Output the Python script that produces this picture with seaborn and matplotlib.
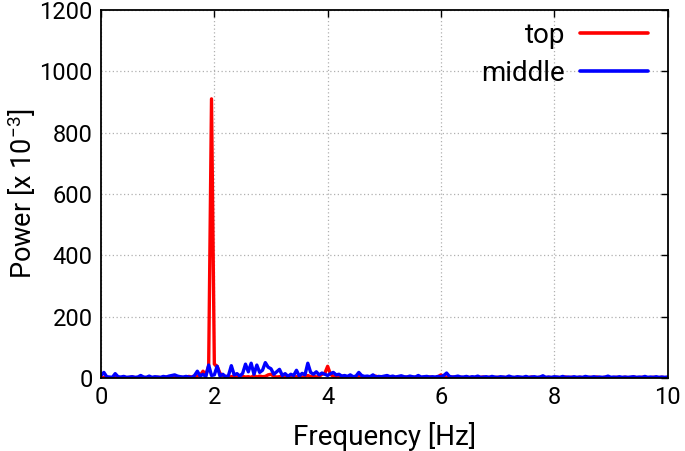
import numpy as np
import pandas as pd
import matplotlib
matplotlib.use("Agg")
import matplotlib.pyplot as plt
import seaborn as sns

# Power spectra, values (x 10^-3), 0.05 Hz steps
top_power = [3, 1, 2, 0, 1, 2, 1, 0, 2, 1, 1, 3, 1, 0, 2, 1, 1, 2, 0, 1,
             2, 1, 0, 3, 1, 2, 4, 3, 2, 1, 2, 5, 3, 2, 6, 8, 22, 10, 40, 910,
             45, 38, 15, 8, 5, 3, 4, 6, 3, 2, 5, 3, 4, 2, 8, 3, 6, 4, 5, 10,
             12, 5, 3, 4, 6, 3, 2, 5, 3, 4, 2, 3, 5, 8, 4, 6, 3, 5, 12, 15,
             38,
             12, 5, 4, 3, 6, 2, 3, 4, 2, 3, 5, 2, 3, 4, 2, 3, 6, 2, 3, 4,
             2, 3, 1, 2, 4, 2, 1, 3, 2, 1, 2, 3, 1, 2, 1, 3, 2, 1, 4, 10,
             4, 2, 1, 3, 2, 1, 2, 1, 3, 1, 2, 1, 1, 2, 3, 1, 2, 1, 1, 2,
             1, 2, 1, 3, 1, 1, 2, 1, 1, 2, 1, 3, 1, 1, 2, 1, 1, 2, 1, 1,
             2, 1, 1, 3, 1, 2, 1, 1, 2, 1, 1, 1, 2, 1, 3, 1, 1, 2, 1, 1,
             1, 2, 1, 1, 2, 1, 1, 3, 1, 1, 2, 1, 1, 1, 2, 1, 1, 2, 1, 1]

middle_power = [8, 18, 4, 3, 2, 14, 4, 3, 5, 2, 3, 4, 2, 3, 8, 3, 2, 6, 2, 4,
                3, 2, 5, 3, 6, 8, 10, 6, 4, 3, 5, 3, 2, 8, 22, 6, 12, 4, 42, 8,
                10, 38, 6, 12, 3, 8, 40, 10, 14, 6, 15, 45, 20, 48, 12, 42, 18, 25, 50, 35,
                30, 12, 20, 28, 8, 14, 5, 12, 8, 25, 6, 15, 10, 48, 18, 12, 20, 10, 16, 12,
                8, 14, 18, 10, 12, 6, 8, 5, 10, 4, 6, 18, 8, 5, 6, 4, 10, 3, 5, 4,
                6, 8, 4, 6, 3, 5, 7, 4, 3, 6, 4, 3, 8, 3, 4, 5, 3, 4, 3, 5,
                4, 8, 16, 5, 3, 4, 6, 3,
                3, 5, 2, 4, 3, 6, 2, 3, 4, 2, 5, 3, 2, 4, 3, 2, 6, 3, 2, 4,
                3, 2, 5, 2, 3, 4, 2, 3, 7, 2, 3, 2, 4, 3, 2, 5, 2, 3, 2, 4,
                2, 3, 2, 5, 3, 2, 4, 2, 3, 2, 3, 6, 2, 3, 2, 4, 2, 3, 2, 3,
                4, 2, 3, 2, 5, 2, 3, 2, 4, 2, 3, 2, 3]

series_names = ["top", "middle"]
series_colors = ["red", "blue"]
x_ticks = [0, 2, 4, 6, 8, 10]
y_ticks = [0, 200, 400, 600, 800, 1000, 1200]

frames = []
for name, vals in zip(series_names, [top_power, middle_power]):
    frames.append(pd.DataFrame({"freq": np.arange(len(vals)) * 0.05,
                                "power": vals, "series": name}))
df = pd.concat(frames, ignore_index=True)

sns.set_style("white")
plt.rcParams["font.family"] = ["Roboto", "DejaVu Sans"]
plt.rcParams["mathtext.fontset"] = "custom"
plt.rcParams["mathtext.rm"] = "Roboto"
plt.rcParams["text.color"] = "black"
plt.rcParams["axes.labelcolor"] = "black"

fig = plt.figure(figsize=(6.85, 4.51), dpi=100)
ax = fig.add_axes([0.1475, 0.162, 0.827, 0.816])

sns.lineplot(data=df, x="freq", y="power", hue="series", hue_order=series_names,
             palette=dict(zip(series_names, series_colors)), linewidth=2.4,
             ax=ax)

ax.set_xlim(0, 10)
ax.set_ylim(0, 1200)
ax.set_xticks(x_ticks)
ax.set_yticks(y_ticks)
ax.grid(True, color="#b0b0b0", linestyle=(0, (1, 2)), linewidth=0.9)
for s in ax.spines.values():
    s.set_color("black")
    s.set_linewidth(1.3)
ax.tick_params(direction="in", length=5, width=1.0, top=True, right=True,
               labelsize=17, colors="black", pad=6)
ax.set_xlabel("Frequency [Hz]", fontsize=20, labelpad=9, color="black")
ax.set_ylabel("Power [x 10$^{\\mathregular{-3}}$]", fontsize=19.5, labelpad=1,
              color="black")

leg = ax.legend(loc="upper right", frameon=False, markerfirst=False,
                fontsize=20, handlelength=2.45, handletextpad=0.55,
                labelspacing=0.38, borderaxespad=0, borderpad=0,
                bbox_to_anchor=(0.966, 0.967))
for line in leg.get_lines():
    line.set_linewidth(2.6)
for txt in leg.get_texts():
    txt.set_color("black")

fig.savefig("out.png", dpi=100)
